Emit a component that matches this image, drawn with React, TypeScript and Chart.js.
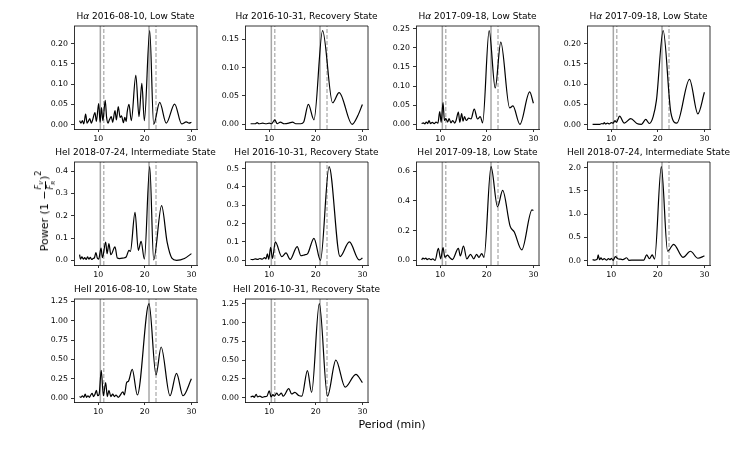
import React, { useEffect, useRef } from "react";
import { Chart, registerables } from "chart.js";

Chart.register(...registerables);

// ---------- shared values ----------
const SOLID_PERIODS = [10.45, 20.9];
const DASHED_PERIODS = [11.2, 22.4];
const X_TICKS = [10, 20, 30];
const X_MIN = 4.8;
const X_MAX = 31.2;

// ---------- panel data ----------
const haLow0810Period = [6.0, 6.3, 6.6, 6.9, 7.3, 7.6, 7.9, 8.2, 8.5, 8.8, 9.3, 9.6, 10.1, 10.4, 10.7, 11.0, 11.5, 11.8, 12.1, 12.4, 12.8, 13.1, 13.6, 13.9, 14.3, 14.7, 15.0, 15.4, 15.7, 16.0, 16.2, 16.6, 17.1, 18.07, 18.75, 19.36, 19.9, 21.05, 21.9, 23.2, 24.6, 26.4, 27.9, 28.9, 29.5, 30.0];
const haLow0810Power = [0.010, 0.004, 0.010, 0.002, 0.026, 0.004, 0.009, 0.015, 0.004, 0.012, 0.030, 0.008, 0.052, 0.006, 0.042, 0.010, 0.060, 0.018, 0.004, 0.012, 0.020, 0.006, 0.035, 0.012, 0.045, 0.018, 0.022, 0.005, 0.018, 0.008, 0.030, 0.050, 0.010, 0.122, 0.020, 0.102, 0.010, 0.232, 0.001, 0.055, 0.004, 0.051, 0.002, 0.007, 0.004, 0.006];

const haRec1031Period = [6.0, 7.0, 7.4, 7.8, 8.6, 9.3, 10.0, 10.5, 11.2, 11.7, 12.4, 13.2, 14.2, 15.0, 15.7, 16.8, 17.4, 18.4, 19.6, 21.45, 23.6, 25.0, 27.8, 29.0, 30.0];
const haRec1031Power = [0.001, 0.001, 0.003, 0.001, 0.002, 0.001, 0.002, 0.001, 0.008, 0.001, 0.004, 0.001, 0.002, 0.004, 0.001, 0.001, 0.004, 0.035, 0.008, 0.165, 0.038, 0.056, 0.000, 0.015, 0.035];

const haLow0918aPeriod = [6.0, 6.4, 6.7, 7.0, 7.3, 7.6, 7.9, 8.3, 8.7, 9.1, 9.5, 9.9, 10.2, 10.6, 10.9, 11.2, 11.6, 11.9, 12.3, 12.7, 13.1, 13.4, 13.9, 14.2, 14.6, 14.9, 15.2, 15.6, 16.1, 16.6, 17.3, 18.0, 18.6, 19.1, 20.5, 21.8, 23.0, 24.9, 25.6, 27.1, 29.2, 30.0];
const haLow0918aPower = [0.002, 0.004, 0.001, 0.006, 0.002, 0.010, 0.002, 0.005, 0.002, 0.006, 0.003, 0.033, 0.005, 0.057, 0.010, 0.015, 0.006, 0.015, 0.004, 0.010, 0.003, 0.010, 0.032, 0.005, 0.028, 0.008, 0.020, 0.010, 0.016, 0.014, 0.040, 0.014, 0.020, 0.004, 0.245, 0.095, 0.215, 0.043, 0.048, 0.000, 0.085, 0.055];

const haLow0918bPeriod = [6.0, 7.5, 8.0, 8.3, 8.5, 8.8, 9.2, 9.6, 10.0, 10.4, 10.8, 11.1, 11.8, 12.8, 14.2, 15.5, 16.5, 17.4, 18.2, 19.0, 19.7, 21.15, 22.8, 24.1, 26.8, 28.6, 30.0];
const haLow0918bPower = [0.001, 0.001, 0.003, 0.002, 0.005, 0.002, 0.004, 0.002, 0.005, 0.004, 0.010, 0.006, 0.021, 0.004, 0.015, 0.003, 0.001, 0.013, 0.003, 0.020, 0.060, 0.232, 0.030, 0.004, 0.112, 0.027, 0.080];

const heiInt0724Period = [6.0, 6.2, 6.5, 6.8, 7.1, 7.4, 7.7, 8.0, 8.3, 8.6, 8.9, 9.2, 9.5, 9.8, 10.1, 10.6, 10.9, 11.6, 11.9, 12.3, 12.7, 13.6, 14.1, 14.6, 15.3, 16.0, 16.6, 16.9, 17.9, 18.6, 19.2, 19.9, 21.05, 21.9, 23.6, 24.8, 25.8, 26.8, 28.5, 30.0];
const heiInt0724Power = [0.025, 0.005, 0.015, 0.005, 0.012, 0.004, 0.015, 0.005, 0.013, 0.004, 0.008, 0.012, 0.035, 0.010, 0.005, 0.055, 0.012, 0.082, 0.030, 0.075, 0.025, 0.060, 0.010, 0.008, 0.010, 0.015, 0.045, 0.040, 0.215, 0.045, 0.085, 0.005, 0.420, 0.002, 0.245, 0.080, 0.010, 0.000, 0.008, 0.030];

const heiRec1031Period = [6.0, 6.5, 7.0, 7.5, 8.0, 8.5, 9.0, 9.3, 9.6, 9.9, 10.3, 10.7, 11.3, 12.7, 13.6, 14.5, 16.0, 16.8, 17.6, 18.2, 19.6, 21.0, 22.85, 25.2, 27.2, 29.3, 30.0];
const heiRec1031Power = [0.005, 0.004, 0.008, 0.005, 0.010, 0.006, 0.015, 0.008, 0.035, 0.005, 0.070, 0.010, 0.100, 0.020, 0.040, 0.005, 0.075, 0.025, 0.030, 0.035, 0.120, 0.000, 0.510, 0.020, 0.100, 0.002, 0.012];

const heiLow0918Period = [6.0, 6.3, 6.6, 6.9, 7.2, 7.6, 8.0, 8.4, 8.9, 9.6, 10.1, 10.6, 11.0, 11.6, 12.0, 12.6, 13.9, 14.3, 15.0, 15.7, 16.5, 17.2, 17.8, 18.3, 18.9, 19.4, 20.9, 22.3, 23.4, 25.0, 25.9, 27.5, 29.7, 30.0];
const heiLow0918Power = [0.003, 0.015, 0.010, 0.015, 0.005, 0.012, 0.004, 0.010, 0.000, 0.080, 0.010, 0.085, 0.020, 0.035, 0.020, 0.005, 0.080, 0.030, 0.095, 0.010, 0.040, 0.010, 0.040, 0.020, 0.045, 0.020, 0.630, 0.360, 0.470, 0.230, 0.190, 0.070, 0.340, 0.335];

const heiiInt0724Period = [6.0, 6.5, 7.0, 7.2, 7.5, 7.8, 8.1, 8.5, 9.0, 9.4, 9.8, 10.0, 10.4, 10.9, 11.4, 12.0, 12.5, 13.3, 13.8, 15.0, 16.0, 17.0, 17.6, 18.2, 18.8, 19.3, 20.75, 22.1, 23.4, 25.4, 27.0, 28.6, 30.0];
const heiiInt0724Power = [0.02, 0.01, 0.03, 0.12, 0.02, 0.06, 0.02, 0.04, 0.01, 0.04, 0.02, 0.05, 0.005, 0.085, 0.04, 0.03, 0.02, 0.06, 0.005, 0.01, 0.008, 0.01, 0.12, 0.04, 0.12, 0.03, 2.02, 0.20, 0.35, 0.07, 0.20, 0.05, 0.10];

const heiiLow0810Period = [6.0, 6.3, 6.6, 6.9, 7.2, 7.5, 7.8, 8.1, 8.4, 8.7, 9.0, 9.3, 9.6, 9.9, 10.2, 10.65, 11.1, 11.6, 11.95, 12.3, 12.7, 13.1, 13.5, 13.8, 14.3, 15.3, 15.6, 16.1, 16.5, 17.3, 18.4, 20.9, 22.4, 23.5, 25.4, 26.8, 28.2, 30.0];
const heiiLow0810Power = [0.02, 0.01, 0.03, 0.01, 0.05, 0.01, 0.03, 0.01, 0.04, 0.06, 0.02, 0.05, 0.10, 0.03, 0.05, 0.36, 0.03, 0.20, 0.02, 0.10, 0.02, 0.05, 0.02, 0.04, 0.01, 0.08, 0.04, 0.20, 0.22, 0.37, 0.04, 1.22, 0.30, 0.66, 0.03, 0.32, 0.03, 0.25];

const heiiRec1031Period = [6.0, 6.5, 6.8, 7.2, 7.5, 8.0, 8.5, 9.0, 9.5, 10.0, 10.4, 10.8, 11.1, 11.6, 12.0, 12.6, 13.0, 14.2, 14.8, 15.5, 16.3, 17.0, 18.2, 19.1, 20.75, 22.5, 24.3, 26.3, 28.6, 30.0];
const heiiRec1031Power = [0.01, 0.02, 0.005, 0.045, 0.01, 0.02, 0.005, 0.015, 0.02, 0.09, 0.01, 0.04, 0.02, 0.06, 0.03, 0.06, 0.02, 0.12, 0.05, 0.07, 0.03, 0.02, 0.36, 0.07, 1.25, 0.02, 0.50, 0.14, 0.31, 0.20];

// ---------- titles and y ticks ----------
const TITLES = [
  "Hα 2016-08-10, Low State",
  "Hα 2016-10-31, Recovery State",
  "Hα 2017-09-18, Low State",
  "Hα 2017-09-18, Low State",
  "HeI 2018-07-24, Intermediate State",
  "HeI 2016-10-31, Recovery State",
  "HeI 2017-09-18, Low State",
  "HeII 2018-07-24, Intermediate State",
  "HeII 2016-08-10, Low State",
  "HeII 2016-10-31, Recovery State",
];
const TICKS_005_020 = [0, 0.05, 0.1, 0.15, 0.2];
const TICKS_005_015 = [0, 0.05, 0.1, 0.15];
const TICKS_005_025 = [0, 0.05, 0.1, 0.15, 0.2, 0.25];
const TICKS_01_04 = [0, 0.1, 0.2, 0.3, 0.4];
const TICKS_01_05 = [0, 0.1, 0.2, 0.3, 0.4, 0.5];
const TICKS_02_06 = [0, 0.2, 0.4, 0.6];
const TICKS_05_20 = [0, 0.5, 1, 1.5, 2];
const TICKS_025_125 = [0, 0.25, 0.5, 0.75, 1, 1.25];

// ---------- layout ----------
const FONT = '"DejaVu Sans", sans-serif';
const COL_LEFT = [74, 245, 416, 587];
const ROW_TOP = [26, 162, 299];
const BOX_W = 123;
const BOX_H = 103;
const Y_AXIS_W = 46;
const X_AXIS_H = 20;
const TOP_PAD = 22;
const RIGHT_PAD = 34;

type PanelCfg = {
  title: string;
  period: number[];
  power: number[];
  yTicks: number[];
  decimals: number;
  col: number;
  row: number;
};

const PANELS: PanelCfg[] = [
  { title: TITLES[0], period: haLow0810Period, power: haLow0810Power, yTicks: TICKS_005_020, decimals: 2, col: 0, row: 0 },
  { title: TITLES[1], period: haRec1031Period, power: haRec1031Power, yTicks: TICKS_005_015, decimals: 2, col: 1, row: 0 },
  { title: TITLES[2], period: haLow0918aPeriod, power: haLow0918aPower, yTicks: TICKS_005_025, decimals: 2, col: 2, row: 0 },
  { title: TITLES[3], period: haLow0918bPeriod, power: haLow0918bPower, yTicks: TICKS_005_020, decimals: 2, col: 3, row: 0 },
  { title: TITLES[4], period: heiInt0724Period, power: heiInt0724Power, yTicks: TICKS_01_04, decimals: 1, col: 0, row: 1 },
  { title: TITLES[5], period: heiRec1031Period, power: heiRec1031Power, yTicks: TICKS_01_05, decimals: 1, col: 1, row: 1 },
  { title: TITLES[6], period: heiLow0918Period, power: heiLow0918Power, yTicks: TICKS_02_06, decimals: 1, col: 2, row: 1 },
  { title: TITLES[7], period: heiiInt0724Period, power: heiiInt0724Power, yTicks: TICKS_05_20, decimals: 1, col: 3, row: 1 },
  { title: TITLES[8], period: heiiLow0810Period, power: heiiLow0810Power, yTicks: TICKS_025_125, decimals: 2, col: 0, row: 2 },
  { title: TITLES[9], period: heiiRec1031Period, power: heiiRec1031Power, yTicks: TICKS_025_125, decimals: 2, col: 1, row: 2 },
];

function makeTitlePlugin(title: string) {
  return {
    id: "panelTitle",
    afterDraw(chart: any) {
      const { ctx, chartArea: a } = chart;
      ctx.save();
      // frame top + right spines
      ctx.strokeStyle = "#000";
      ctx.lineWidth = 0.8;
      ctx.beginPath();
      ctx.moveTo(a.left, a.top);
      ctx.lineTo(a.right, a.top);
      ctx.lineTo(a.right, a.bottom);
      ctx.stroke();
      // title, with italic alpha like mathtext
      const size = 9;
      const normal = `normal ${size}px ${FONT}`;
      const italic = `italic ${size}px ${FONT}`;
      const parts: { t: string; f: string }[] = [];
      const idx = title.indexOf("α");
      if (idx >= 0) {
        parts.push({ t: title.slice(0, idx), f: normal });
        parts.push({ t: "α", f: italic });
        parts.push({ t: title.slice(idx + 1), f: normal });
      } else {
        parts.push({ t: title, f: normal });
      }
      let total = 0;
      for (const p of parts) {
        ctx.font = p.f;
        total += ctx.measureText(p.t).width;
      }
      let x = (a.left + a.right) / 2 - total / 2;
      const y = a.top - 9.5;
      ctx.fillStyle = "#000";
      ctx.textBaseline = "middle";
      ctx.textAlign = "left";
      for (const p of parts) {
        ctx.font = p.f;
        ctx.fillText(p.t, x, y);
        x += ctx.measureText(p.t).width;
      }
      ctx.restore();
    },
  };
}

function Panel({ cfg }: { cfg: PanelCfg }) {
  const ref = useRef<HTMLCanvasElement>(null);
  const width = Y_AXIS_W + BOX_W + RIGHT_PAD;
  const height = TOP_PAD + BOX_H + X_AXIS_H;

  useEffect(() => {
    if (!ref.current) return;
    const lo = Math.min(...cfg.power);
    const hi = Math.max(...cfg.power);
    const span = hi - lo;
    const yMin = lo - 0.05 * span;
    const yMax = hi + 0.05 * span;
    const curve = cfg.period.map((p, i) => ({ x: p, y: cfg.power[i] }));
    const vline = (v: number) => [
      { x: v, y: yMin },
      { x: v, y: yMax },
    ];
    const chart = new Chart(ref.current, {
      type: "line",
      data: {
        datasets: [
          {
            data: curve,
            borderColor: "#000",
            borderWidth: 1.2,
            pointRadius: 0,
            cubicInterpolationMode: "monotone",
            fill: false,
          } as any,
          ...SOLID_PERIODS.map((v) => ({
            data: vline(v),
            borderColor: "rgba(128,128,128,0.7)",
            borderWidth: 1.5,
            pointRadius: 0,
            fill: false,
          })),
          ...DASHED_PERIODS.map((v) => ({
            data: vline(v),
            borderColor: "rgba(128,128,128,0.75)",
            borderWidth: 1.1,
            borderDash: [4, 2],
            pointRadius: 0,
            fill: false,
          })),
        ],
      },
      options: {
        responsive: false,
        animation: false,
        devicePixelRatio: 1,
        events: [],
        layout: { padding: { left: 0, right: RIGHT_PAD, top: TOP_PAD, bottom: 0 } },
        plugins: {
          legend: { display: false },
          tooltip: { enabled: false },
          title: { display: false },
        },
        scales: {
          x: {
            type: "linear",
            min: X_MIN,
            max: X_MAX,
            afterFit: (s: any) => {
              s.height = X_AXIS_H;
            },
            afterBuildTicks: (s: any) => {
              s.ticks = X_TICKS.map((v) => ({ value: v }));
            },
            grid: {
              display: true,
              drawOnChartArea: false,
              drawTicks: true,
              tickLength: 3,
              tickWidth: 0.8,
              tickColor: "#000",
            },
            border: { display: true, color: "#000", width: 0.8 },
            ticks: {
              color: "#000",
              font: { family: FONT, size: 7.8 },
              padding: 2,
              maxRotation: 0,
              autoSkip: false,
              callback: (v: any) => String(v),
            },
          },
          y: {
            type: "linear",
            min: yMin,
            max: yMax,
            afterFit: (s: any) => {
              s.width = Y_AXIS_W;
            },
            afterBuildTicks: (s: any) => {
              s.ticks = cfg.yTicks.map((v) => ({ value: v }));
            },
            grid: {
              display: true,
              drawOnChartArea: false,
              drawTicks: true,
              tickLength: 3,
              tickWidth: 0.8,
              tickColor: "#000",
            },
            border: { display: true, color: "#000", width: 0.8 },
            ticks: {
              color: "#000",
              font: { family: FONT, size: 7.8 },
              padding: 3,
              autoSkip: false,
              callback: (v: any) => Number(v).toFixed(cfg.decimals),
            },
          },
        },
      } as any,
      plugins: [makeTitlePlugin(cfg.title)],
    });
    return () => chart.destroy();
  }, [cfg]);

  return (
    <canvas
      ref={ref}
      width={width}
      height={height}
      style={{
        position: "absolute",
        left: COL_LEFT[cfg.col] - Y_AXIS_W,
        top: ROW_TOP[cfg.row] - TOP_PAD,
        width,
        height,
      }}
    />
  );
}

export default function App() {
  const sub: React.CSSProperties = { fontSize: 5.5, fontStyle: "italic", position: "relative", top: 1.5, verticalAlign: "baseline" };
  return (
    <div
      style={{
        position: "fixed",
        left: 0,
        top: 0,
        width: 747,
        height: 452,
        background: "#fff",
        overflow: "hidden",
        fontFamily: FONT,
        color: "#000",
      }}
    >
      {PANELS.map((p, i) => (
        <Panel key={i} cfg={p} />
      ))}
      <div
        style={{
          position: "absolute",
          left: 45,
          top: 211,
          transform: "translate(-50%, -50%) rotate(-90deg)",
          whiteSpace: "nowrap",
          fontSize: 11,
          lineHeight: "14px",
          display: "flex",
          alignItems: "center",
        }}
      >
        <span>Power (1 − </span>
        <span
          style={{
            display: "inline-flex",
            flexDirection: "column",
            alignItems: "center",
            fontSize: 8,
            lineHeight: "9px",
            margin: "0 1px",
          }}
        >
          <span style={{ fontStyle: "italic", paddingBottom: 1 }}>
            F<span style={sub}>V</span>
          </span>
          <span style={{ fontStyle: "italic", borderTop: "0.8px solid #000", paddingTop: 0 }}>
            F<span style={sub}>R</span>
          </span>
        </span>
        <span>)</span>
        <span style={{ fontSize: 8, position: "relative", top: -6 }}>2</span>
      </div>
      <div
        style={{
          position: "absolute",
          left: 392,
          top: 424,
          transform: "translate(-50%, -50%)",
          whiteSpace: "nowrap",
          fontSize: 11,
        }}
      >
        Period (min)
      </div>
    </div>
  );
}
